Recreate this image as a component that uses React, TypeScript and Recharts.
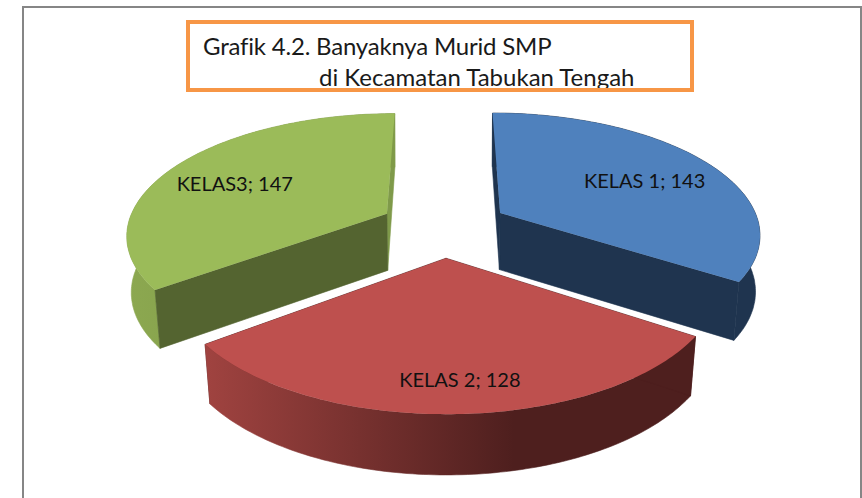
import React from 'react';
import { PieChart, Pie } from 'recharts';

const categories = ['KELAS 1', 'KELAS 2', 'KELAS3'];
const values = [143, 128, 147];
const titleLines = ['Grafik 4.2. Banyaknya Murid SMP', 'di Kecamatan Tabukan Tengah'];

const topColors = ['#4F81BD', '#BE504E', '#9BBB59'];
const wallColors = [
  ['#1F344F', '#1F344F'],
  ['#A04340', '#4E1F1E'],
  ['#8CA850', '#7F9A48'],
];
const startFaceColors = ['#1F344F', '#4E1F1E', '#546430'];
const endFaceColors = ['#1F344F', '#4E1F1E', '#7F9A4A'];
const labelNudge = [14, 6, -19];

const data = categories.map((name, i) => ({ name, value: values[i], index: i }));

// fake 3D: the flat pie is tilted and seen in perspective
const TILT = 120 / 260;
const PERSPECTIVE = 0.159;
const EXPLODE = 0.25;
const DEPTH = 57;

const rad = (d: number) => (d * Math.PI) / 180;

const project = (cx: number, cy: number, R: number, u: number, v: number) => {
  const w = 1 - PERSPECTIVE * v;
  return { x: cx + (R * u) / w, y: cy + (R * TILT * v) / w, v };
};

// bottom rim: a bit narrower, more so towards the viewer
const lower = (cx: number, p: { x: number; y: number; v: number }) => ({
  x: cx + (p.x - cx) * (0.9863 - 0.0078 * p.v),
  y: p.y + DEPTH + 3 * p.v,
  v: p.v,
});

const toPath = (pts: { x: number; y: number }[]) =>
  pts.map((p, i) => `${i ? 'L' : 'M'}${p.x.toFixed(1)} ${p.y.toFixed(1)}`).join(' ') + ' Z';

const Slice3D = (props: any) => {
  const { cx, cy, outerRadius: R, startAngle, endAngle, payload } = props;
  const i = payload.index;
  const a0 = 90 - startAngle;
  const a1 = 90 - endAngle;
  const mid = (a0 + a1) / 2;
  const ou = EXPLODE * Math.sin(rad(mid));
  const ov = -EXPLODE * Math.cos(rad(mid));

  const apex = project(cx, cy, R, ou, ov);
  const arc = [];
  for (let a = a0; a < a1; a += 1) {
    arc.push(project(cx, cy, R, ou + Math.sin(rad(a)), ov - Math.cos(rad(a))));
  }
  arc.push(project(cx, cy, R, ou + Math.sin(rad(a1)), ov - Math.cos(rad(a1))));

  const first = arc[0];
  const last = arc[arc.length - 1];
  const xs = arc.map((p) => p.x);
  const gid = `wall-${i}`;

  return (
    <g>
      <defs>
        <linearGradient
          id={gid}
          gradientUnits="userSpaceOnUse"
          x1={Math.min(...xs)}
          x2={Math.max(...xs)}
          y1={0}
          y2={0}
        >
          <stop offset="0" stopColor={wallColors[i][0]} />
          <stop offset="0.63" stopColor={wallColors[i][1]} />
          <stop offset="1" stopColor={wallColors[i][1]} />
        </linearGradient>
      </defs>
      <path
        d={toPath([apex, last, lower(cx, last), lower(cx, apex)])}
        fill={endFaceColors[i]}
        stroke={endFaceColors[i]}
        strokeWidth={0.6}
      />
      <path
        d={toPath([...arc, ...arc.map((p) => lower(cx, p)).reverse()])}
        fill={`url(#${gid})`}
        stroke={`url(#${gid})`}
        strokeWidth={0.6}
      />
      <path
        d={toPath([apex, first, lower(cx, first), lower(cx, apex)])}
        fill={startFaceColors[i]}
        stroke={startFaceColors[i]}
        strokeWidth={0.6}
      />
      <path d={toPath([apex, ...arc])} fill={topColors[i]} />
    </g>
  );
};

const renderLabel = (props: any) => {
  const { cx, cy, outerRadius: R, midAngle, payload } = props;
  const g = payload.index === 1 ? 1.055 : 0.87;
  const a = 90 - midAngle;
  const p = project(cx, cy, R, g * Math.sin(rad(a)), -g * Math.cos(rad(a)));
  return (
    <text
      x={p.x + labelNudge[payload.index]}
      y={p.y}
      textAnchor="middle"
      dominantBaseline="central"
      fontFamily="Lato"
      fontSize={20}
      fill="#111"
    >
      {`${payload.name}; ${payload.value}`}
    </text>
  );
};

export default function App() {
  return (
    <div style={{ position: 'absolute', left: 0, top: 0, width: 862, height: 498, overflow: 'hidden', background: '#fff' }}>
      <div
        style={{
          position: 'absolute',
          left: 22,
          top: 6,
          width: 836,
          height: 520,
          border: '2px solid #868686',
        }}
      />
      <div
        style={{
          position: 'absolute',
          left: 186,
          top: 20,
          width: 500,
          height: 64,
          border: '4px solid #F79646',
          overflow: 'hidden',
          fontFamily: 'Lato',
          fontSize: 24,
          color: '#1a1a1a',
          whiteSpace: 'nowrap',
        }}
      >
        <div style={{ position: 'absolute', left: 13, top: 9, lineHeight: '26px', letterSpacing: -0.2 }}>{titleLines[0]}</div>
        <div style={{ position: 'absolute', left: 129, top: 40, lineHeight: '26px' }}>{titleLines[1]}</div>
      </div>
      <div style={{ position: 'absolute', left: 0, top: 0 }}>
        <PieChart width={862} height={498} margin={{ top: 0, right: 0, bottom: 0, left: 0 }}>
          <Pie
            data={data}
            dataKey="value"
            nameKey="name"
            cx={444}
            cy={227}
            innerRadius={0}
            outerRadius={260}
            startAngle={90}
            endAngle={-270}
            stroke="none"
            shape={Slice3D}
            label={renderLabel}
            labelLine={false}
            isAnimationActive={false}
          />
        </PieChart>
      </div>
    </div>
  );
}
